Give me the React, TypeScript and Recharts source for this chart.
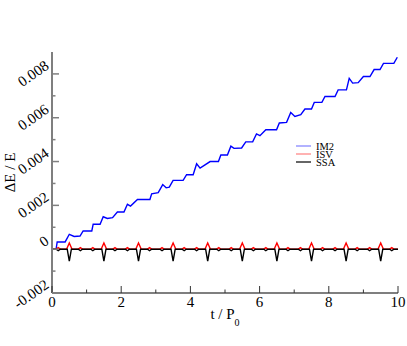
import { Legend, Line, LineChart, XAxis, YAxis } from "recharts";

const FONT = "'Liberation Serif', 'DejaVu Serif', 'Times New Roman', serif";
const AXIS = "#7f7f7f";
const TICK = "#333333";

const seriesNames = ["IM2", "ISV", "SSA"];
const seriesColors = ["#0000ff", "#ff0000", "#000000"];
const legendColors = ["#7f7fff", "#ff7f7f", "#000000"];

const xTicks = [0, 1, 2, 3, 4, 5, 6, 7, 8, 9, 10];
const xMajor = [0, 2, 4, 6, 8, 10];
const xTickLabels = ["0", "2", "4", "6", "8", "10"];
const yTicks = [-0.002, -0.001, 0, 0.001, 0.002, 0.003, 0.004, 0.005, 0.006, 0.007, 0.008];
const yMajor = [-0.002, 0, 0.002, 0.004, 0.006, 0.008];
const yTickLabels = ["-0.002", "0", "0.002", "0.004", "0.006", "0.008"];

// IM2: staircase drift of the energy error
const im2Points: [number, number][] = [
  [0.12, 0.00002], [0.15, 0.00033], [0.38, 0.00033], [0.5, 0.00068], [0.64, 0.00058],
  [0.81, 0.0006], [0.9, 0.00083], [1.15, 0.00083], [1.19, 0.00114], [1.39, 0.00114],
  [1.48, 0.00148], [1.6, 0.0014], [1.75, 0.00144], [1.89, 0.0017], [2.08, 0.0017],
  [2.18, 0.00205], [2.27, 0.00197], [2.47, 0.00227], [2.83, 0.00227], [2.88, 0.00253],
  [3.07, 0.00258], [3.2, 0.00295], [3.3, 0.0028], [3.39, 0.00283], [3.5, 0.00314],
  [3.79, 0.00314], [3.89, 0.0034], [4.08, 0.0034], [4.18, 0.0039], [4.28, 0.0037],
  [4.57, 0.004], [4.81, 0.004], [4.88, 0.0043], [5.07, 0.0043], [5.17, 0.0047],
  [5.26, 0.0046], [5.48, 0.00462], [5.6, 0.0049], [5.8, 0.0049], [5.91, 0.00526],
  [6.01, 0.00518], [6.18, 0.00545], [6.49, 0.00545], [6.57, 0.00576], [6.78, 0.00579],
  [6.9, 0.00624], [7.02, 0.00606], [7.19, 0.00614], [7.31, 0.0064], [7.5, 0.0064],
  [7.58, 0.0067], [7.8, 0.0067], [7.89, 0.00697], [8.18, 0.00697], [8.27, 0.00727],
  [8.51, 0.00727], [8.59, 0.0078], [8.69, 0.00758], [8.85, 0.0076], [9.0, 0.00788],
  [9.19, 0.00788], [9.31, 0.0082], [9.48, 0.0082], [9.58, 0.00848], [9.88, 0.00848],
  [9.98, 0.00876],
];

const isvPoints: [number, number][] = [
  [0, 0],
  [0.12, 0], [0.18, 0.00007], [0.24, 0], [0.42, 0], [0.5, 0.00028], [0.58, 0], [0.76, 0], [0.82, 0.00007], [0.88, 0],
  [1.12, 0], [1.18, 0.00007], [1.24, 0], [1.42, 0], [1.5, 0.00028], [1.58, 0], [1.76, 0], [1.82, 0.00007], [1.88, 0],
  [2.12, 0], [2.18, 0.00007], [2.24, 0], [2.42, 0], [2.5, 0.00028], [2.58, 0], [2.76, 0], [2.82, 0.00007], [2.88, 0],
  [3.12, 0], [3.18, 0.00007], [3.24, 0], [3.42, 0], [3.5, 0.00028], [3.58, 0], [3.76, 0], [3.82, 0.00007], [3.88, 0],
  [4.12, 0], [4.18, 0.00007], [4.24, 0], [4.42, 0], [4.5, 0.00028], [4.58, 0], [4.76, 0], [4.82, 0.00007], [4.88, 0],
  [5.12, 0], [5.18, 0.00007], [5.24, 0], [5.42, 0], [5.5, 0.00028], [5.58, 0], [5.76, 0], [5.82, 0.00007], [5.88, 0],
  [6.12, 0], [6.18, 0.00007], [6.24, 0], [6.42, 0], [6.5, 0.00028], [6.58, 0], [6.76, 0], [6.82, 0.00007], [6.88, 0],
  [7.12, 0], [7.18, 0.00007], [7.24, 0], [7.42, 0], [7.5, 0.00028], [7.58, 0], [7.76, 0], [7.82, 0.00007], [7.88, 0],
  [8.12, 0], [8.18, 0.00007], [8.24, 0], [8.42, 0], [8.5, 0.00028], [8.58, 0], [8.76, 0], [8.82, 0.00007], [8.88, 0],
  [9.12, 0], [9.18, 0.00007], [9.24, 0], [9.42, 0], [9.5, 0.00028], [9.58, 0], [9.76, 0], [9.82, 0.00007], [9.88, 0],
  [10, 0],
];

const ssaPoints: [number, number][] = [
  [0, 0],
  [0.12, 0], [0.18, -0.00007], [0.24, 0], [0.44, 0], [0.5, -0.00055], [0.56, 0], [0.76, 0], [0.82, -0.00007], [0.88, 0],
  [1.12, 0], [1.18, -0.00007], [1.24, 0], [1.44, 0], [1.5, -0.00055], [1.56, 0], [1.76, 0], [1.82, -0.00007], [1.88, 0],
  [2.12, 0], [2.18, -0.00007], [2.24, 0], [2.44, 0], [2.5, -0.00055], [2.56, 0], [2.76, 0], [2.82, -0.00007], [2.88, 0],
  [3.12, 0], [3.18, -0.00007], [3.24, 0], [3.44, 0], [3.5, -0.00055], [3.56, 0], [3.76, 0], [3.82, -0.00007], [3.88, 0],
  [4.12, 0], [4.18, -0.00007], [4.24, 0], [4.44, 0], [4.5, -0.00055], [4.56, 0], [4.76, 0], [4.82, -0.00007], [4.88, 0],
  [5.12, 0], [5.18, -0.00007], [5.24, 0], [5.44, 0], [5.5, -0.00055], [5.56, 0], [5.76, 0], [5.82, -0.00007], [5.88, 0],
  [6.12, 0], [6.18, -0.00007], [6.24, 0], [6.44, 0], [6.5, -0.00055], [6.56, 0], [6.76, 0], [6.82, -0.00007], [6.88, 0],
  [7.12, 0], [7.18, -0.00007], [7.24, 0], [7.44, 0], [7.5, -0.00055], [7.56, 0], [7.76, 0], [7.82, -0.00007], [7.88, 0],
  [8.12, 0], [8.18, -0.00007], [8.24, 0], [8.44, 0], [8.5, -0.00055], [8.56, 0], [8.76, 0], [8.82, -0.00007], [8.88, 0],
  [9.12, 0], [9.18, -0.00007], [9.24, 0], [9.44, 0], [9.5, -0.00055], [9.56, 0], [9.76, 0], [9.82, -0.00007], [9.88, 0],
  [10, 0],
];

const toRows = (pts: [number, number][]) => pts.map(([t, v]) => ({ t, v }));
const seriesData = [toRows(im2Points), toRows(isvPoints), toRows(ssaPoints)];

const majorIndex = (list: number[], v: number) => list.findIndex((m) => Math.abs(m - v) < 1e-9);

const textStyle = { fontFamily: FONT };

function BottomTick({ x, y, payload }: any) {
  const idx = majorIndex(xMajor, payload.value);
  return (
    <g>
      <line x1={x} x2={x} y1={y} y2={y - (idx >= 0 ? 7 : 3.5)} stroke={TICK} />
      {idx >= 0 && (
        <text x={x} y={y + 14} textAnchor="middle" fontSize={15} style={textStyle} fill="#000">
          {xTickLabels[idx]}
        </text>
      )}
    </g>
  );
}

function TopTick({ x, y, payload }: any) {
  const idx = majorIndex(xMajor, payload.value);
  return <line x1={x} x2={x} y1={y} y2={y + (idx >= 0 ? 7 : 3.5)} stroke={TICK} />;
}

function LeftTick({ x, y, payload }: any) {
  const idx = majorIndex(yMajor, payload.value);
  return (
    <g>
      <line x1={x} x2={x + (idx >= 0 ? 7 : 3.5)} y1={y} y2={y} stroke={AXIS} strokeWidth={1.5} />
      {idx >= 0 && (
        <text
          x={0}
          y={0}
          transform={`translate(${x - 2}, ${y - 6}) rotate(-35)`}
          textAnchor="end"
          fontSize={15}
          style={textStyle}
          fill="#000"
        >
          {yTickLabels[idx]}
        </text>
      )}
    </g>
  );
}

function RightTick({ x, y, payload }: any) {
  const idx = majorIndex(yMajor, payload.value);
  return <line x1={x} x2={x - (idx >= 0 ? 7 : 3.5)} y1={y} y2={y} stroke={AXIS} strokeWidth={1.5} />;
}

function XTitle({ viewBox }: any) {
  const cx = viewBox.x + viewBox.width / 2;
  const by = viewBox.y + 26;
  return (
    <text x={cx} y={by} textAnchor="middle" fontSize={15} style={textStyle} fill="#000">
      t / P
      <tspan fontSize={10} dy={7}>0</tspan>
    </text>
  );
}

function YTitle({ viewBox }: any) {
  const cy = viewBox.y + viewBox.height / 2;
  return (
    <text
      x={0}
      y={0}
      transform={`translate(15, ${cy}) rotate(-90)`}
      textAnchor="middle"
      fontSize={15}
      style={textStyle}
      fill="#000"
    >
      ΔE / E
    </text>
  );
}

function LegendBox() {
  return (
    <svg width={70} height={32} style={{ display: "block" }}>
      {seriesNames.map((name, i) => (
        <g key={name}>
          <line x1={6} x2={21} y1={8 + i * 8} y2={8 + i * 8} stroke={legendColors[i]} strokeWidth={1.2} />
          <text x={26} y={12 + i * 8} fontSize={10.5} style={textStyle} fill="#000">
            {name}
          </text>
        </g>
      ))}
    </svg>
  );
}

export default function App() {
  return (
    <div style={{ position: "absolute", left: 0, top: 0, background: "#fff" }}>
      <LineChart width={407} height={346} margin={{ top: 52, right: 9, bottom: 0, left: 0 }}>
        <XAxis
          xAxisId="b"
          type="number"
          dataKey="t"
          domain={[0, 10]}
          ticks={xTicks}
          interval={0}
          height={53}
          tickSize={0}
          tickMargin={0}
          tickLine={false}
          axisLine={{ stroke: AXIS, strokeWidth: 2 }}
          tick={BottomTick}
          label={{ content: XTitle }}
          allowDataOverflow
        />
        <XAxis
          xAxisId="t"
          orientation="top"
          type="number"
          dataKey="t"
          domain={[0, 10]}
          ticks={xTicks}
          interval={0}
          height={0}
          tickSize={0}
          tickMargin={0}
          tickLine={false}
          axisLine={{ stroke: AXIS, strokeWidth: 2 }}
          tick={TopTick}
          allowDataOverflow
        />
        <YAxis
          yAxisId="l"
          type="number"
          domain={[-0.002, 0.009]}
          ticks={yTicks}
          interval={0}
          width={52}
          tickSize={0}
          tickMargin={0}
          tickLine={false}
          axisLine={{ stroke: AXIS, strokeWidth: 2 }}
          tick={LeftTick}
          label={{ content: YTitle }}
          allowDataOverflow
        />
        <YAxis
          yAxisId="r"
          orientation="right"
          type="number"
          domain={[-0.002, 0.009]}
          ticks={yTicks}
          interval={0}
          width={0}
          tickSize={0}
          tickMargin={0}
          tickLine={false}
          axisLine={{ stroke: AXIS, strokeWidth: 2 }}
          tick={RightTick}
          allowDataOverflow
        />
        <Legend
          layout="vertical"
          align="center"
          verticalAlign="middle"
          content={LegendBox}
          wrapperStyle={{ position: "absolute", left: 290, top: 138, width: 70, height: 32 }}
        />
        {seriesNames.map((name, i) => (
          <Line
            key={name}
            name={name}
            data={seriesData[i]}
            dataKey="v"
            xAxisId="b"
            yAxisId="l"
            type="linear"
            stroke={seriesColors[i]}
            strokeWidth={1.4}
            dot={false}
            isAnimationActive={false}
          />
        ))}
      </LineChart>
    </div>
  );
}
